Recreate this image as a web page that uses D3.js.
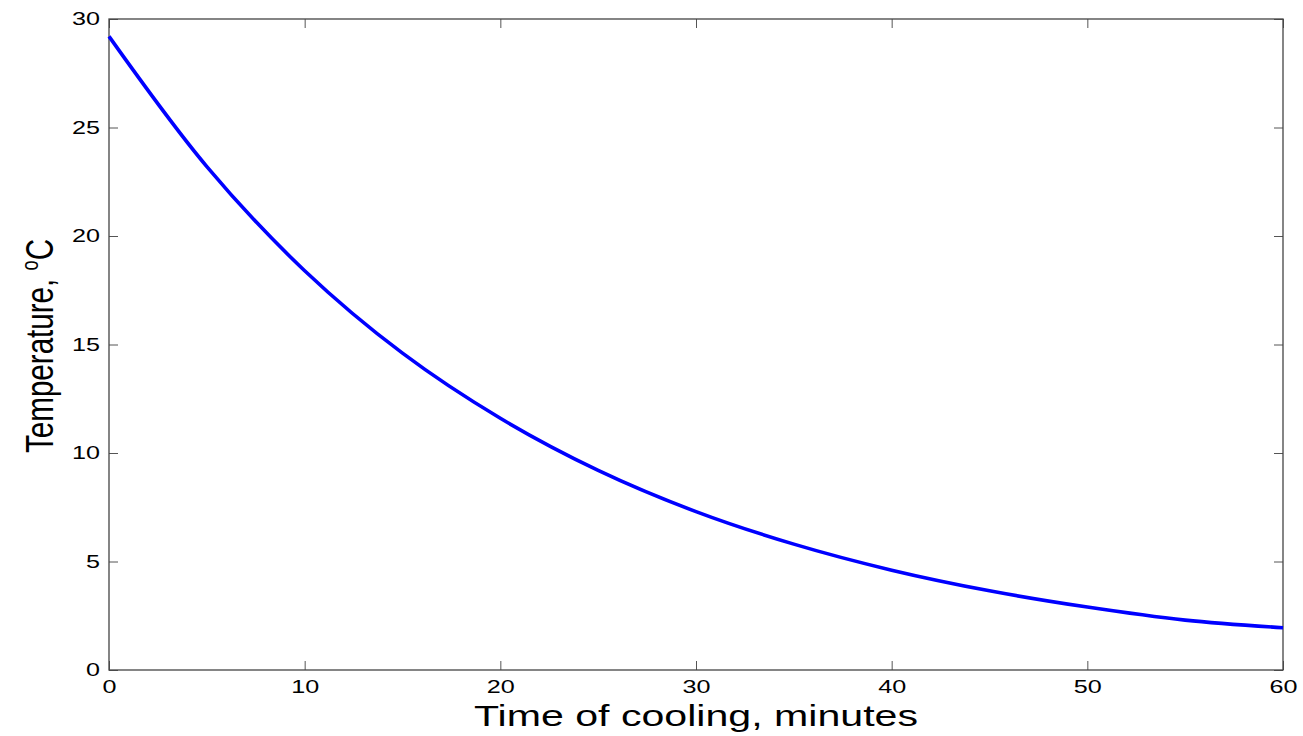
<!DOCTYPE html>
<html>
<head>
<meta charset="utf-8">
<script src="https://cdn.jsdelivr.net/npm/d3@7"></script>
<style>
  body { margin: 0; background: #fff; }
  text { font-family: "Liberation Sans", Arial, sans-serif; fill: #000; }
</style>
</head>
<body>
<div id="chart"></div>
<script>
// minutes since start of cooling
var times = [0, 5, 10, 15, 20, 25, 30, 35, 40, 45, 50, 55, 60];
// temperature, deg C
var temps = [29.2, 23.2, 18.4, 14.6, 11.6, 9.2, 7.3, 5.8, 4.6, 3.65, 2.9, 2.3, 1.95];
var xTicks = [0, 10, 20, 30, 40, 50, 60];
var yTicks = [0, 5, 10, 15, 20, 25, 30];

var W = 1303, H = 736;
var pL = 109, pR = 1283, pT = 19, pB = 670;

var svg = d3.select("#chart").append("svg").attr("width", W).attr("height", H);

var x = d3.scaleLinear().domain([0, 60]).range([pL, pR]);
var y = d3.scaleLinear().domain([0, 30]).range([pB, pT]);

// ticks pointing inward on all four sides, like matlab
var tk = 9;
svg.append("g").attr("transform", "translate(0," + pB + ")")
  .call(d3.axisBottom(x).tickValues(xTicks).tickSizeInner(-tk).tickSizeOuter(0).tickPadding(8))
  .call(function(g) {
    g.select(".domain").remove();
    // original text is stretched sideways
    g.selectAll("text").attr("font-size", 18).attr("dy", "0.85em")
      .attr("transform", "scale(1.4,1)");
  });
svg.append("g").attr("transform", "translate(0," + pT + ")")
  .call(d3.axisTop(x).tickValues(xTicks).tickSizeInner(-tk).tickSizeOuter(0).tickFormat(""))
  .call(function(g) { g.select(".domain").remove(); });
svg.append("g").attr("transform", "translate(" + pL + ",0)")
  .call(d3.axisLeft(y).tickValues(yTicks).tickSizeInner(-tk).tickSizeOuter(0).tickPadding(9))
  .call(function(g) {
    g.select(".domain").remove();
    g.selectAll("text").attr("font-size", 18).each(function() {
      var t = d3.select(this);
      t.attr("transform", "translate(" + (+t.attr("x")) + ",0) scale(1.4,1)").attr("x", 0);
    });
  });
svg.append("g").attr("transform", "translate(" + pR + ",0)")
  .call(d3.axisRight(y).tickValues(yTicks).tickSizeInner(-tk).tickSizeOuter(0).tickFormat(""))
  .call(function(g) { g.select(".domain").remove(); });

svg.selectAll(".tick line").attr("stroke", "#555").attr("stroke-width", 1);

svg.append("rect")
  .attr("x", pL).attr("y", pT)
  .attr("width", pR - pL).attr("height", pB - pT)
  .attr("fill", "none").attr("stroke", "#444").attr("stroke-width", 1.3);

var pts = times.map(function(t, i) { return [t, temps[i]]; });
var line = d3.line()
  .x(function(d) { return x(d[0]); })
  .y(function(d) { return y(d[1]); })
  .curve(d3.curveCatmullRom);

svg.append("path").datum(pts)
  .attr("d", line)
  .attr("fill", "none").attr("stroke", "#0000ff").attr("stroke-width", 3.6);

// axis labels
svg.append("text")
  .attr("x", (pL + pR) / 2).attr("y", 726)
  .attr("text-anchor", "middle").attr("font-size", 29)
  .attr("textLength", 444).attr("lengthAdjust", "spacingAndGlyphs")
  .text("Time of cooling, minutes");

var yl = svg.append("text")
  .attr("transform", "translate(53,346) rotate(-90)")
  .attr("text-anchor", "middle").attr("font-size", 39)
  .attr("textLength", 214).attr("lengthAdjust", "spacingAndGlyphs");
yl.append("tspan").text("Temperature, ");
yl.append("tspan").attr("font-size", 24).attr("dy", -15).text("o");
yl.append("tspan").attr("dy", 15).text("C");
</script>
</body>
</html>
